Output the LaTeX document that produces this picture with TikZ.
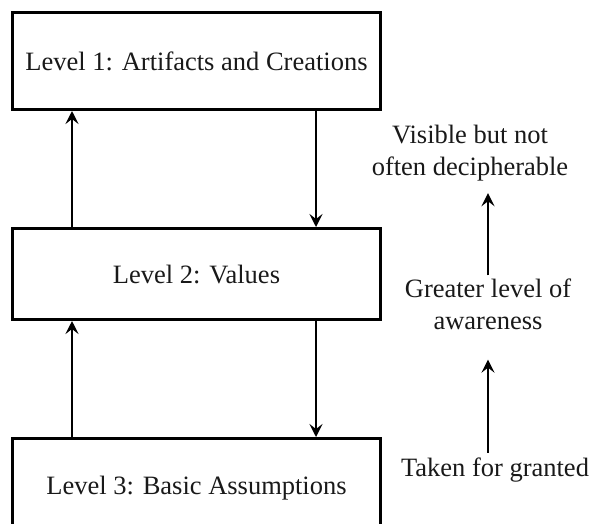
\documentclass[tikz,border=0pt]{standalone}
\usepackage{fontspec}
\setmainfont{Liberation Serif}
\usetikzlibrary{arrows.meta}
\begin{document}
\begin{tikzpicture}[x=1pt,y=-1pt,
  levelbox/.style={draw=black, line width=3pt, minimum width=368pt, inner sep=0pt, anchor=north west, font=\fontsize{26.5}{32}\selectfont, text=black!90},
  lbl/.style={align=center, font=\fontsize{26.5}{32}\selectfont, text=black!90, inner sep=0pt},
  arr/.style={line width=2.8pt, -{Stealth[length=13pt, width=13pt, inset=5pt]}}]
\useasboundingbox (0,0) rectangle (594,523);
\clip (0,0) rectangle (594,523);
\node[levelbox, minimum height=97pt] (b1) at (11,11) {Level 1: Artifacts and Creations};
\node[levelbox, minimum height=91pt] (b2) at (11,227) {Level 2: Values};
\node[levelbox, minimum height=100pt] (b3) at (11,437) {Level 3: Basic Assumptions};
\coordinate (xl) at (72,0);
\coordinate (xr) at (316,0);
\draw[arr] (b2.north -| xl) -- (b1.south -| xl);
\draw[arr] (b1.south -| xr) -- (b2.north -| xr);
\draw[arr] (b3.north -| xl) -- (b2.south -| xl);
\draw[arr] (b2.south -| xr) -- (b3.north -| xr);
\node[lbl] (t1) at (470,153) {Visible but not\\often decipherable};
\node[lbl] (t2) at (488,304) {Greater level of\\awareness};
\node[lbl] (t3) at (495,470) {Taken for granted};
\coordinate (xa) at (488,0);
\draw[arr] ([yshift=3pt]t2.north -| xa) -- ([yshift=-12pt]t1.south -| xa);
\draw[arr] ([yshift=5pt]t3.north -| xa) -- ([yshift=-30pt]t2.south -| xa);
\end{tikzpicture}
\end{document}
